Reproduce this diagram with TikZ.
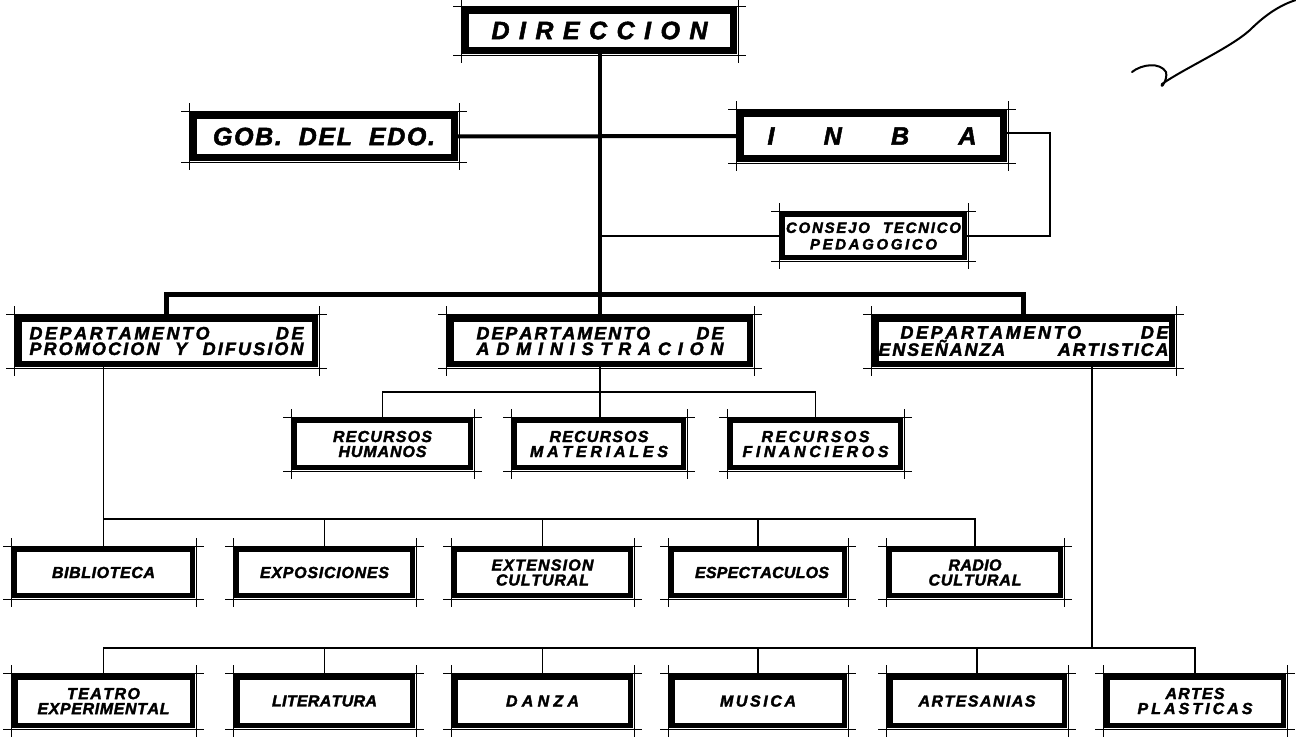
\documentclass[tikz,border=0pt]{standalone}
\usepackage{fontspec}
\setmainfont{Liberation Sans}[BoldItalicFeatures={FakeBold=2}]
\usepackage{graphicx}
\ExplSyntaxOn
\NewDocumentCommand\spreadtext{O{4}m}{
  \str_map_inline:nn {#2}
   { \str_if_eq:nnTF {##1} {~} { \c_space_tl \hskip 0pt plus #1 fil \relax } { ##1 \hskip 0pt plus 1 fil \relax } }
  \unskip
}
\ExplSyntaxOff
\newcommand\lbl[3][4]{\makebox[#2][s]{\spreadtext[#1]{#3}}}
\tikzset{
  obox/.style={draw, rectangle, inner sep=0pt, outer sep=0pt, align=center, fill=white},
  fbig/.style={font=\fontsize{25}{26}\bfseries\itshape\selectfont},
  fdep/.style={font=\fontsize{18}{15.5}\bfseries\itshape\selectfont},
  fsml/.style={font=\fontsize{16}{15}\bfseries\itshape\selectfont},
  fcon/.style={font=\fontsize{15}{16.5}\bfseries\itshape\selectfont},
  tick/.style={line width=0.9pt},
  trunk/.style={line width=4pt},
  deptbar/.style={line width=5pt},
  link2/.style={line width=2.2pt},
  link/.style={line width=1.6pt},
}
\newcommand\orgbox[8]{%
  \draw[tick] ({#2-9},{#3-1}) -- ({#4+9},{#3-1});
  \draw[tick] ({#2-9},{#5+1}) -- ({#4+9},{#5+1});
  \draw[tick] ({#2-1},{#3-9}) -- ({#2-1},{#5+9});
  \draw[tick] ({#4+1},{#3-9}) -- ({#4+1},{#5+9});
  \node[obox, #7, line width=#6pt, minimum width={(#4-#2-#6)*1pt}, minimum height={(#5-#3-#6)*1pt}] (#1) at ({(#2+#4)/2},{(#3+#5)/2}) {#8};
}
\begin{document}
\begin{tikzpicture}[x=1pt,y=-1pt]
\useasboundingbox (0,0) rectangle (1296,737);
% top level
\orgbox{dir}{462}{7}{737}{54}{7}{fbig}{\lbl{216pt}{DIRECCION}}
\orgbox{gob}{190}{112}{458}{161}{7}{fbig}{\lbl[5]{222pt}{GOB. DEL EDO.}}
\orgbox{inba}{737}{110}{1007}{162}{7}{fbig}{\lbl{209pt}{INBA}}
\orgbox{cons}{780}{212}{967}{260}{5}{fcon}{\lbl[4]{175pt}{CONSEJO TECNICO}\\\lbl{127pt}{PEDAGOGICO}}
% departments
\orgbox{prom}{15}{315}{318}{367}{6.5}{fdep}{\lbl[23]{274pt}{DEPARTAMENTO DE}\\\lbl[4]{274pt}{PROMOCION Y DIFUSION}}
\orgbox{adm}{447}{315}{753}{367}{6.5}{fdep}{\lbl[20]{247pt}{DEPARTAMENTO DE}\\\lbl{247pt}{ADMINISTRACION}}
\orgbox{ens}{872}{315}{1175}{367}{6.5}{fdep,align=right}{\lbl[20]{268pt}{DEPARTAMENTO DE}\\\lbl[25]{290pt}{ENSEÑANZA ARTISTICA}}
% recursos
\orgbox{hum}{292}{418}{473}{470}{5}{fsml}{\lbl{99pt}{RECURSOS}\\\lbl{88pt}{HUMANOS}}
\orgbox{mat}{512}{418}{686}{470}{5}{fsml}{\lbl{99pt}{RECURSOS}\\\lbl{138pt}{MATERIALES}}
\orgbox{fin}{728}{418}{903}{470}{5}{fsml}{\lbl{108pt}{RECURSOS}\\\lbl{146pt}{FINANCIEROS}}
% promocion units
\orgbox{bib}{12}{547}{195}{598}{5}{fsml}{\lbl{103pt}{BIBLIOTECA}}
\orgbox{expo}{234}{547}{415}{598}{5}{fsml}{\lbl{129pt}{EXPOSICIONES}}
\orgbox{ext}{452}{547}{633}{598}{5}{fsml}{\lbl{102pt}{EXTENSION}\\\lbl{93pt}{CULTURAL}}
\orgbox{esp}{669}{547}{847}{598}{5}{fsml}{\hspace*{8pt}\lbl{134pt}{ESPECTACULOS}}
\orgbox{rad}{887}{547}{1063}{598}{5}{fsml}{\lbl{53pt}{RADIO}\\\lbl{93pt}{CULTURAL}}
% ensenanza units
\orgbox{tea}{12}{674}{195}{728}{5.5}{fsml}{\lbl{73pt}{TEATRO}\\\lbl{132pt}{EXPERIMENTAL}}
\orgbox{lit}{234}{674}{415}{728}{5.5}{fsml}{\lbl{105pt}{LITERATURA}}
\orgbox{dan}{452}{674}{633}{728}{5.5}{fsml}{\lbl{73pt}{DANZA}}
\orgbox{mus}{669}{674}{847}{728}{5.5}{fsml}{\lbl{76pt}{MUSICA}}
\orgbox{art}{887}{674}{1067}{728}{5.5}{fsml}{\lbl{117pt}{ARTESANIAS}}
\orgbox{apl}{1104}{674}{1286}{728}{5.5}{fsml}{\lbl{59pt}{ARTES}\\\lbl{115pt}{PLASTICAS}}
% coordinates
\coordinate (brk) at (1050,133);
\coordinate (bar1) at (600,294);
\coordinate (bar2) at (600,392);
\coordinate (bar3) at (600,519);
\coordinate (ev) at (1092,648);
% connectors
\draw[trunk] (dir.south) -- (dir.south |- adm.north);
\draw[trunk] (gob.east) -- (inba.west);
\draw[link2] (inba.east |- brk) -- (brk) |- (cons.east);
\draw[link2] (cons.west) -- (cons.west -| dir.south);
\draw[deptbar] (prom.north) |- (bar1) -| (ens.north);
\draw[link] (adm.south) -- (adm.south |- mat.north);
\draw[link] (hum.north) |- (bar2) -| (fin.north);
\draw[link] (prom.south -| bib.north) -- (bib.north);
\draw[link] (bib.north |- bar3) -| (rad.north);
\foreach \n in {expo,ext,esp} \draw[link] (\n.north) -- (\n.north |- bar3);
\draw[link] (ens.south -| ev) -- (ev);
\draw[link] (tea.north) |- (ev) -| (apl.north);
\foreach \n in {lit,dan,mus,art} \draw[link] (\n.north) -- (\n.north |- ev);
% signature scribble
\draw[line width=2pt, line cap=round, line join=round] (1132,72) .. controls (1142,64) and (1160,62) .. (1166,72) .. controls (1168,80) and (1160,90) .. (1162,84) .. controls (1185,68) and (1230,48) .. (1250,30) .. controls (1265,15) and (1280,5) .. (1296,0);
\end{tikzpicture}
\end{document}
